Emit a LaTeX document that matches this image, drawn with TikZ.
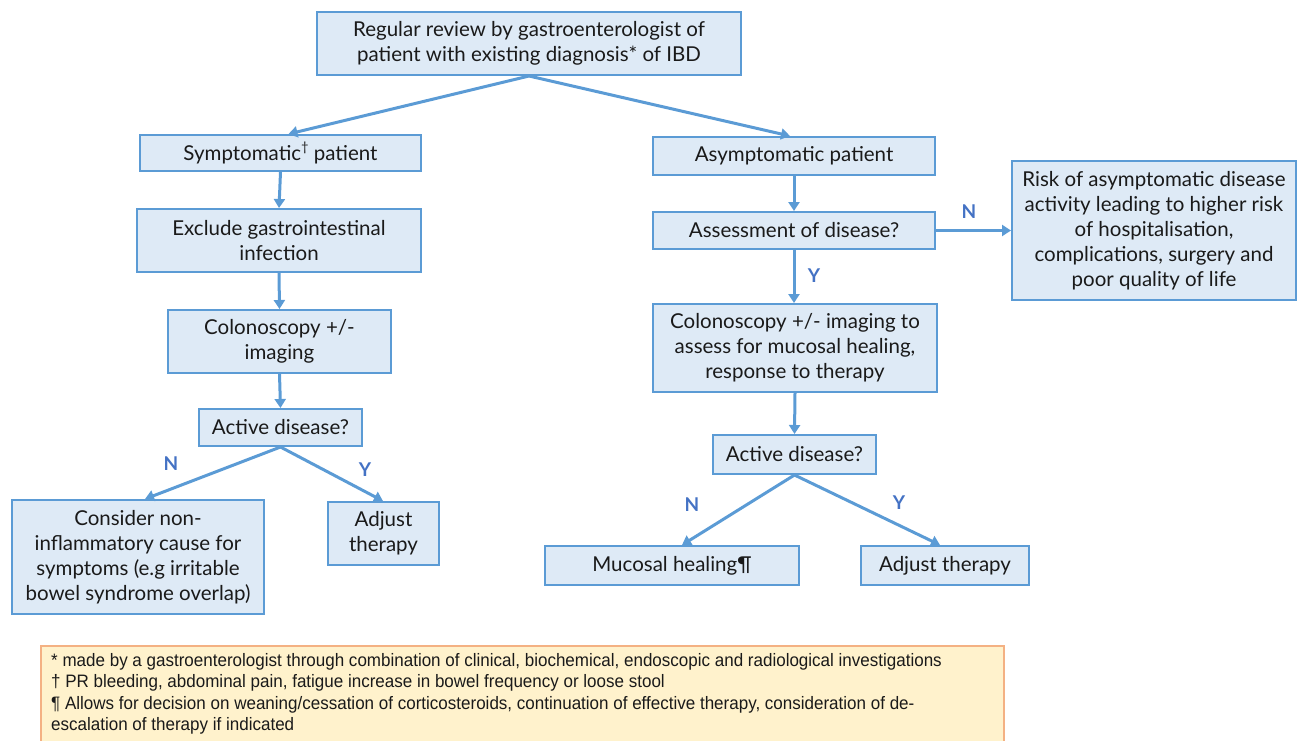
\documentclass[tikz,border=0pt]{standalone}
\usepackage{fontspec}
\setmainfont{Lato}
\newfontfamily\notefont[FakeStretch=0.945]{Liberation Sans}
\usetikzlibrary{arrows.meta}
\definecolor{boxfill}{HTML}{DEEAF6}
\definecolor{boxline}{HTML}{5B9BD5}
\definecolor{lbl}{HTML}{4472C4}
\definecolor{notefill}{HTML}{FFF2CC}
\definecolor{noteline}{HTML}{F4B183}
\definecolor{txt}{HTML}{1A1A1A}
\tikzset{
  box/.style={draw=boxline, fill=boxfill, line width=2pt, inner sep=0pt, align=center,
    text=txt, font=\fontsize{20.5}{25}\selectfont},
  conn/.style={draw=boxline, line width=3pt, -{Triangle[width=11pt,length=9pt]}},
  yn/.style={text=lbl, font=\fontsize{19}{20}\selectfont\bfseries},
}
\begin{document}
\begin{tikzpicture}[x=1pt,y=-1pt]
\useasboundingbox (0,0) rectangle (1298,740);
\begin{scope}
\clip (0,0) rectangle (1298,740);
\node[draw=noteline, fill=notefill, line width=2pt, minimum width=963pt, minimum height=120pt, anchor=north west] (note) at (40,645) {};
\end{scope}
\node[anchor=north west, align=left, text=txt, font=\notefont\fontsize{18}{21.5}\selectfont, inner sep=0pt] (notetext) at (51,653) {%
* made by a gastroenterologist through combination of clinical, biochemical, endoscopic and radiological investigations\\
† PR bleeding, abdominal pain, fatigue increase in bowel frequency or loose stool\\
¶ Allows for decision on weaning/cessation of corticosteroids, continuation of effective therapy, consideration of de-\\
escalation of therapy if indicated};

\node[box, minimum width=424pt, minimum height=63pt] (top) at (529,43.5) {Regular review by gastroenterologist of\\patient with existing diagnosis* of IBD};
\node[box, minimum width=281pt, minimum height=36pt] (sym) at (280.5,153) {Symptomatic{\raisebox{0.45em}{\fontsize{13}{13}\selectfont †}} patient};
\node[box, minimum width=282pt, minimum height=38pt] (asym) at (794,156) {Asymptomatic patient};
\node[box, minimum width=284pt, minimum height=63pt] (excl) at (279,240.5) {Exclude gastrointestinal\\infection};
\node[box, minimum width=223pt, minimum height=63pt] (colL) at (279.5,341.5) {Colonoscopy +/-\\imaging};
\node[box, minimum width=163pt, minimum height=37pt] (actL) at (280.5,427.5) {Active disease?};
\node[box, minimum width=252pt, minimum height=114pt] (cons) at (138,557) {Consider non-\\inflammatory cause for\\symptoms (e.g irritable\\bowel syndrome overlap)};
\node[box, minimum width=111pt, minimum height=63pt] (adjL) at (383.5,533.5) {Adjust\\therapy};
\node[box, minimum width=282pt, minimum height=37pt] (assess) at (794,230.5) {Assessment of disease?};
\node[box, minimum width=284pt, minimum height=139pt] (risk) at (1154,230.5) {Risk of asymptomatic disease\\activity leading to higher risk\\of hospitalisation,\\complications, surgery and\\poor quality of life};
\node[box, minimum width=284pt, minimum height=88pt] (colR) at (795,348) {Colonoscopy +/- imaging to\\assess for mucosal healing,\\response to therapy};
\node[box, minimum width=163pt, minimum height=39pt] (actR) at (794.5,454.5) {Active disease?};
\node[box, minimum width=254pt, minimum height=39pt] (muc) at (672,565.5) {Mucosal healing¶};
\node[box, minimum width=168pt, minimum height=39pt] (adjR) at (945,565.5) {Adjust therapy};

\draw[conn] (top.south) -- ([xshift=8pt]sym.north);
\draw[conn] (top.south) -- ([xshift=-4pt]asym.north);
\draw[conn] (sym.south) -- (excl.north);
\draw[conn] (excl.south) -- (colL.north);
\draw[conn] (colL.south) -- (actL.north);
\draw[conn] (actL.south) -- ([xshift=7pt]cons.north);
\draw[conn] (actL.south) -- ([xshift=-0.5pt]adjL.north);
\draw[conn] (asym.south) -- (assess.north);
\draw[conn] (assess.east) -- (risk.west);
\draw[conn] (assess.south) -- ([xshift=-1pt]colR.north);
\draw[conn] (colR.south) -- (actR.north);
\draw[conn] (actR.south) -- ([xshift=10pt]muc.north);
\draw[conn] (actR.south) -- ([xshift=-5pt]adjR.north);

\node[yn] (nL) at (171,464) {N};
\node[yn] (yL) at (365,470) {Y};
\node[yn] (nA) at (969,212) {N};
\node[yn] (yA) at (814,276) {Y};
\node[yn] (nR) at (692,505) {N};
\node[yn] (yR) at (899,503) {Y};
\end{tikzpicture}
\end{document}
